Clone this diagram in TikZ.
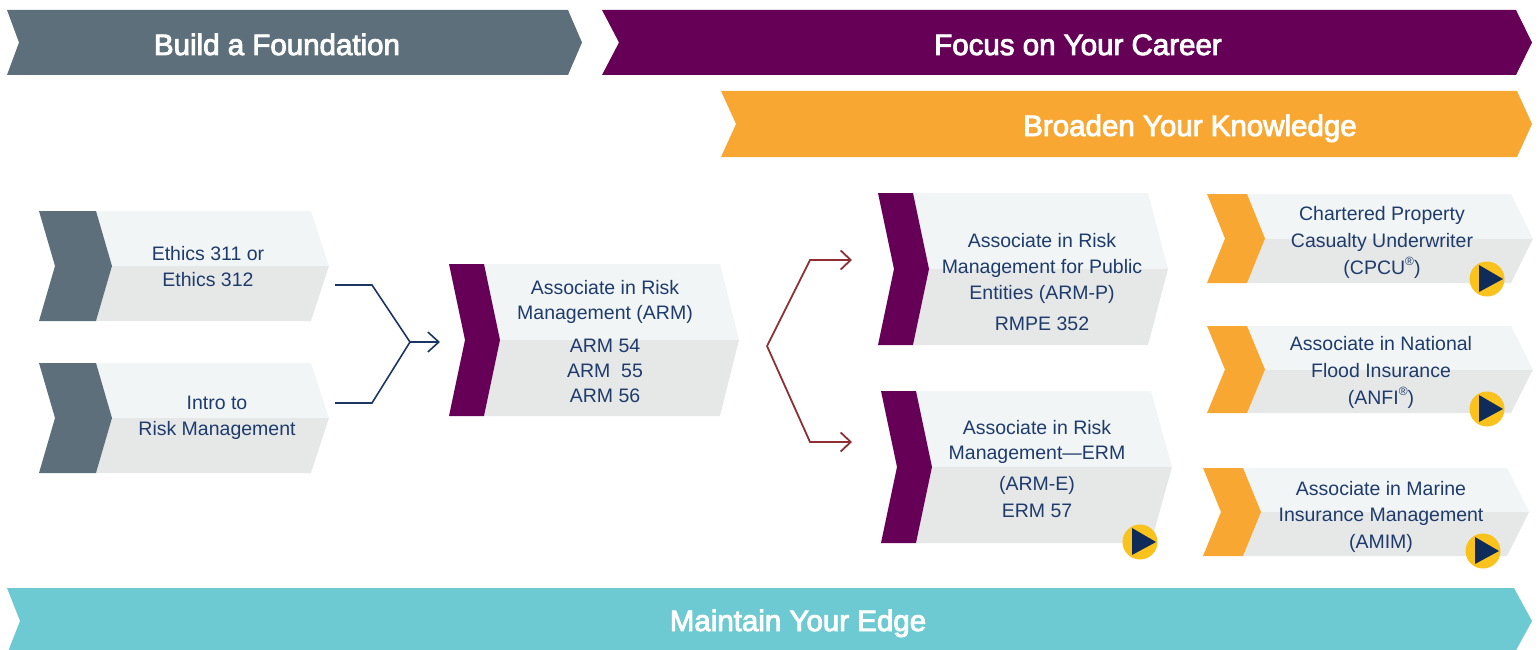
\documentclass[tikz,border=0pt]{standalone}
\usepackage{fontspec}
\setmainfont{Liberation Sans}
\newfontfamily\bannerfont[FakeBold=3]{Liberation Sans}
\usetikzlibrary{arrows.meta}
\definecolor{bgray}{HTML}{5D6F7A}
\definecolor{bpurple}{HTML}{660057}
\definecolor{borange}{HTML}{F8A733}
\definecolor{bteal}{HTML}{6ECAD2}
\definecolor{ltop}{HTML}{F1F5F6}
\definecolor{lbot}{HTML}{E6E8E8}
\definecolor{tnavy}{HTML}{1E3B6C}
\definecolor{lnavy}{HTML}{1B3664}
\definecolor{lred}{HTML}{8E2F33}
\definecolor{pyellow}{HTML}{F9C21D}
\definecolor{pnavy}{HTML}{0E2B5A}
\tikzset{
  bannertext/.style={text=white, font=\bannerfont\fontsize{29.5}{32}\selectfont, anchor=base, inner sep=0pt},
  boxtext/.style={text=tnavy, font=\fontsize{19.5}{24}\selectfont, anchor=base, inner sep=0pt},
  navyline/.style={draw=lnavy, line width=1.6pt, line join=miter},
  redline/.style={draw=lred, line width=1.8pt, line join=miter},
  openarrow/.style={-{Straight Barb[length=11pt,width=20pt,line width=1.6pt]}},
  playdot/.style={circle, fill=pyellow, minimum size=35pt, inner sep=0pt},
}
% #1 name, #2 x0, #3 ytop, #4 ybot, #5 xi, #6 xr, #7 xtip, #8 depth, #9 colour
\newcommand\cbox[9]{%
  \pgfmathsetmacro\cbym{(#3+#4)/2}%
  \fill[ltop] (#5,#3) -- (#6,#3) -- (#7,\cbym) -- (#5+#8,\cbym) -- cycle;
  \fill[lbot] (#5+#8,\cbym) -- (#7,\cbym) -- (#6,#4) -- (#5,#4) -- cycle;
  \fill[#9] (#2,#3) -- (#5,#3) -- (#5+#8,\cbym) -- (#5,#4) -- (#2,#4) -- (#2+#8,\cbym) -- cycle;
  \coordinate (#1-w) at (#2,\cbym);
  \coordinate (#1-e) at (#7,\cbym);
}
\newcommand\tline[4]{\node[boxtext] (#1) at (#2,#3+7) {#4};}
\newcommand\playicon[3]{%
  \node[playdot] (#1) at (#2,#3) {};
  \fill[pnavy] ([shift={(-8,-14)}]#1.center) -- ([shift={(-8,13)}]#1.center) -- ([shift={(16,0)}]#1.center) -- cycle;
}
\begin{document}
\begin{tikzpicture}[x=1pt,y=-1pt]
\useasboundingbox (0,0) rectangle (1539,650);
% banners
\fill[bgray] (7,10) -- (568,10) -- (582,42.5) -- (568,75) -- (7,75) -- (19,42.5) -- cycle;
\node[bannertext] (build) at (277,55) {Build a Foundation};
\fill[bpurple] (602,10) -- (1516,10) -- (1532,42.5) -- (1516,75) -- (602,75) -- (619,42.5) -- cycle;
\node[bannertext] (focus) at (1078,55) {Focus on Your Career};
\fill[borange] (721,91) -- (1517,91) -- (1532,124) -- (1517,157) -- (721,157) -- (736,124) -- cycle;
\node[bannertext] (broaden) at (1190,136) {Broaden Your Knowledge};
\fill[bteal] (7,588) -- (1514,588) -- (1532,621) -- (1514,654) -- (7,654) -- (20,621) -- cycle;
\node[bannertext] (maintain) at (798,631) {Maintain Your Edge};
% boxes
\cbox{eth}{39}{211}{321}{96}{311}{329}{16}{bgray}
\cbox{intro}{39}{363}{473}{96}{311}{329}{16}{bgray}
\cbox{arm}{449}{264}{416}{484}{720}{739}{16}{bpurple}
\cbox{armp}{878}{193}{345}{913}{1148}{1168}{16}{bpurple}
\cbox{arme}{881}{391}{543}{916}{1151}{1172}{16}{bpurple}
\cbox{cpcu}{1207}{194}{283}{1247}{1511}{1533}{18}{borange}
\cbox{anfi}{1207}{326}{413}{1247}{1511}{1533}{18}{borange}
\cbox{amim}{1203}{468}{556}{1243}{1507}{1529}{18}{borange}
% texts
\tline{eth1}{208}{253}{Ethics 311 or}
\tline{eth2}{208}{279}{Ethics 312}
\tline{intro1}{217}{402}{Intro to}
\tline{intro2}{217}{428}{Risk Management}
\tline{arm1}{605}{287}{Associate in Risk}
\tline{arm2}{605}{312}{Management (ARM)}
\tline{arm3}{605}{345}{ARM 54}
\tline{arm4}{605}{370}{ARM\ \ 55}
\tline{arm5}{605}{395}{ARM 56}
\tline{armp1}{1042}{240}{Associate in Risk}
\tline{armp2}{1042}{266}{Management for Public}
\tline{armp3}{1042}{292}{Entities (ARM-P)}
\tline{armp4}{1042}{323}{RMPE 352}
\tline{arme1}{1037}{427}{Associate in Risk}
\tline{arme2}{1037}{452}{Management—ERM}
\tline{arme3}{1037}{483}{(ARM-E)}
\tline{arme4}{1037}{510}{ERM 57}
\tline{cpcu1}{1382}{213}{Chartered Property}
\tline{cpcu2}{1382}{240}{Casualty Underwriter}
\tline{cpcu3}{1382}{267}{(CPCU{\raisebox{0.45em}{\fontsize{12}{12}\selectfont ®}})}
\tline{anfi1}{1381}{343}{Associate in National}
\tline{anfi2}{1381}{370}{Flood Insurance}
\tline{anfi3}{1381}{397}{(ANFI{\raisebox{0.45em}{\fontsize{12}{12}\selectfont ®}})}
\tline{amim1}{1381}{488}{Associate in Marine}
\tline{amim2}{1381}{514}{Insurance Management}
\tline{amim3}{1381}{541}{(AMIM)}
% play icons
\playicon{play1}{1140}{542}
\playicon{play2}{1487}{279}
\playicon{play3}{1487}{409}
\playicon{play4}{1483}{551}
% connectors
\coordinate (join) at (410,342);
\draw[navyline] ([shift={(6,19)}]eth-e) -- ++(37,0) -- (join);
\draw[navyline] ([shift={(6,-15)}]intro-e) -- ++(37,0) -- (join);
\draw[navyline,openarrow] (join) -- ([shift={(-9,2)}]arm-w);
\coordinate (split) at ([shift={(28,6)}]arm-e);
\draw[redline,-{Straight Barb[length=10pt,width=19pt,line width=1.8pt]}] (split) -- ([shift={(-68,-9)}]armp-w) -- ([shift={(-26,-9)}]armp-w);
\draw[redline,-{Straight Barb[length=10pt,width=19pt,line width=1.8pt]}] (split) -- ([shift={(-71,-25)}]arme-w) -- ([shift={(-29,-25)}]arme-w);
\end{tikzpicture}
\end{document}
